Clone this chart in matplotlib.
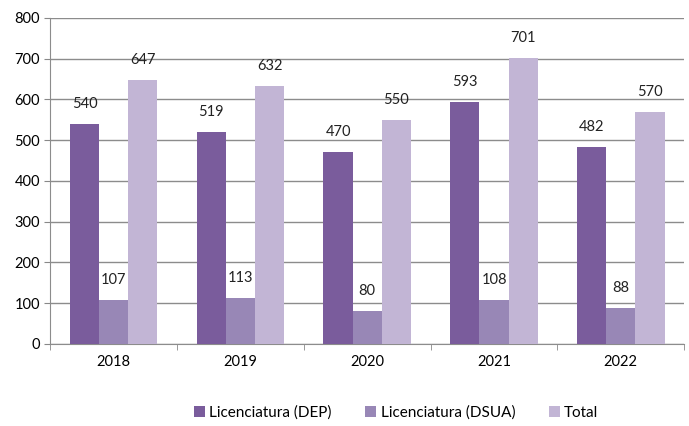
import numpy as np
import matplotlib.pyplot as plt

years = ["2018", "2019", "2020", "2021", "2022"]
dep = [540, 519, 470, 593, 482]
dsua = [107, 113, 80, 108, 88]
total = [647, 632, 550, 701, 570]

series = [
    ("Licenciatura (DEP)", dep, "#7a5c9c"),
    ("Licenciatura (DSUA)", dsua, "#9887b6"),
    ("Total", total, "#c2b5d5"),
]

plt.rcParams["font.family"] = ["Lato", "DejaVu Sans"]

fig = plt.figure(figsize=(6.89, 4.26), dpi=100)
ax = fig.add_axes([0.073, 0.193, 0.92, 0.765])

x = np.arange(len(years))
w = 0.23
for i, (name, vals, color) in enumerate(series):
    pos = x + (i - 1) * w
    ax.bar(pos, vals, width=w, color=color, label=name, zorder=3)
    for p, v in zip(pos, vals):
        ax.text(p, v + 32, str(v), ha="center", va="bottom", fontsize=10.5, color="#222222")

ax.set_ylim(0, 800)
ax.set_yticks(range(0, 801, 100))
ax.set_xlim(-0.5, len(years) - 0.5)
ax.set_xticks(x)
ax.set_xticklabels(years)
ax.set_xticks(np.arange(-0.5, len(years)), minor=True)
ax.tick_params(axis="x", which="major", length=0, pad=8, labelsize=10.5)
ax.tick_params(axis="x", which="minor", length=4, color="#888888")
ax.tick_params(axis="y", length=4, color="#888888", labelsize=10.5)
ax.grid(axis="y", color="#8c8c8c", linewidth=1, zorder=0)
for s in ["top", "right"]:
    ax.spines[s].set_visible(False)
ax.spines["left"].set_color("#8c8c8c")
ax.spines["bottom"].set_color("#8c8c8c")

fig.legend(loc="lower center", bbox_to_anchor=(0.575, -0.018), ncol=3, frameon=False,
           fontsize=11, handlelength=0.7, handleheight=0.7, columnspacing=2.2,
           handletextpad=0.3)

fig.savefig("out.png", dpi=100)
